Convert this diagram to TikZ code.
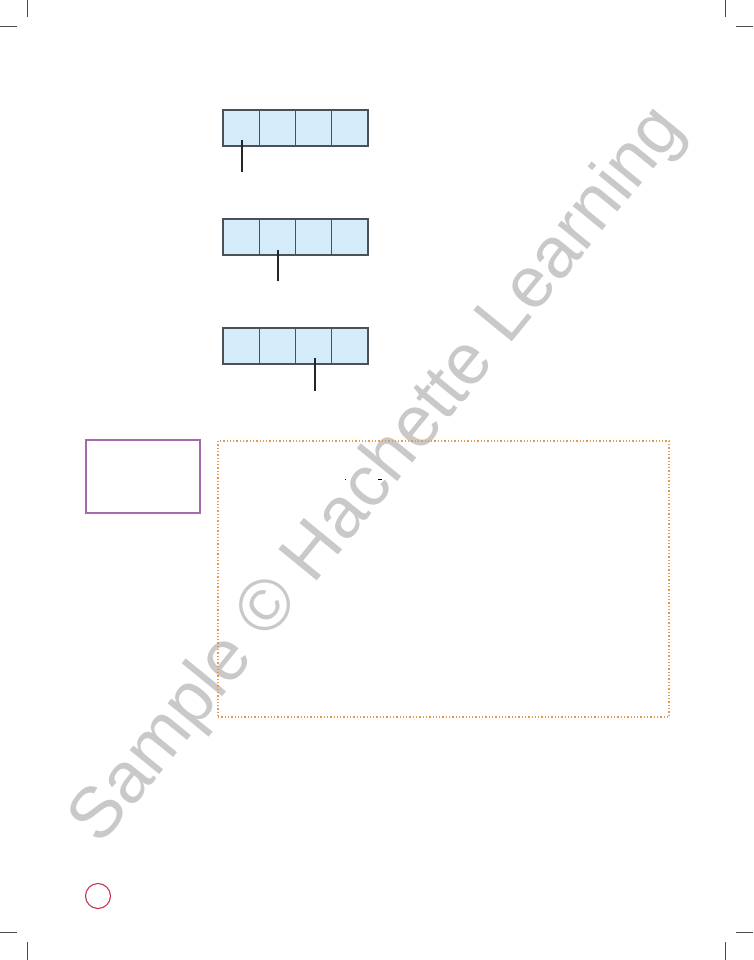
\documentclass[tikz,border=0pt]{standalone}
\usepackage{fontspec}
\setsansfont{Liberation Sans}
\definecolor{cellfill}{HTML}{D4ECF9}
\definecolor{celldraw}{HTML}{4A5258}
\definecolor{wmgray}{HTML}{C9C9C9}
\definecolor{dotorange}{HTML}{E39A55}
\definecolor{boxpurple}{HTML}{A66AAA}
\definecolor{pagered}{HTML}{C8354E}
\tikzset{
  cell/.style={draw=celldraw, fill=cellfill, line width=1.3pt, minimum width=36.25pt, minimum height=36pt, inner sep=0pt, outer sep=0pt},
  lead/.style={draw=black!85, line width=1.2pt},
  crop/.style={draw=black!70, line width=1pt},
  watermark/.style={text=wmgray, font=\sffamily\fontsize{72}{72}\selectfont, inner sep=0pt},
  orangebox/.style={draw=dotorange, line width=1.3pt, dotted},
  purplebox/.style={draw=boxpurple, line width=1.3pt},
  pagecircle/.style={draw=pagered, line width=1.1pt, circle, minimum size=25pt, inner sep=0pt}
}
\begin{document}
\begin{tikzpicture}[x=1pt,y=-1pt]
\useasboundingbox (0,0) rectangle (753,960);
% watermark
\node[watermark, rotate=50.8] (wm) at (379,476) {Sample © Hachette Learning};
% crop marks
\draw[crop] (27,0) -- (27,17);
\draw[crop] (0,27) -- (17,27);
\draw[crop] (725,0) -- (725,17);
\draw[crop] (736,27) -- (753,27);
\draw[crop] (0,932) -- (17,932);
\draw[crop] (27,942) -- (27,960);
\draw[crop] (736,932) -- (753,932);
\draw[crop] (725,942) -- (725,960);
% rows of cells
\foreach \r/\y in {1/128,2/237,3/346}{
  \node[cell] (r\r c1) at (241.1,\y) {};
  \node[cell] (r\r c2) at (277.4,\y) {};
  \node[cell] (r\r c3) at (313.6,\y) {};
  \node[cell] (r\r c4) at (349.9,\y) {};
}
\coordinate (p1) at (242,172);
\coordinate (p2) at (278,281);
\coordinate (p3) at (315,391);
\draw[lead] ([xshift=0.9pt,yshift=6pt]r1c1.south) -- (p1);
\draw[lead] ([xshift=0.6pt,yshift=5pt]r2c2.south) -- (p2);
\draw[lead] ([xshift=1.4pt,yshift=6pt]r3c3.south) -- (p3);
% purple box
\node[purplebox, minimum width=114pt, minimum height=73pt, inner sep=0pt] (pbox) at (143,476.5) {};
% dotted orange box
\node[orangebox, minimum width=451pt, minimum height=276pt, inner sep=0pt] (obox) at (443.5,579) {};
% tiny marks
\fill[black] (344.6,478.6) rectangle (345.6,479.6);
\fill[black] (378,478.5) rectangle (382,479.7);
% page number circle
\node[pagecircle] (pg) at (98,896) {};
\end{tikzpicture}
\end{document}
